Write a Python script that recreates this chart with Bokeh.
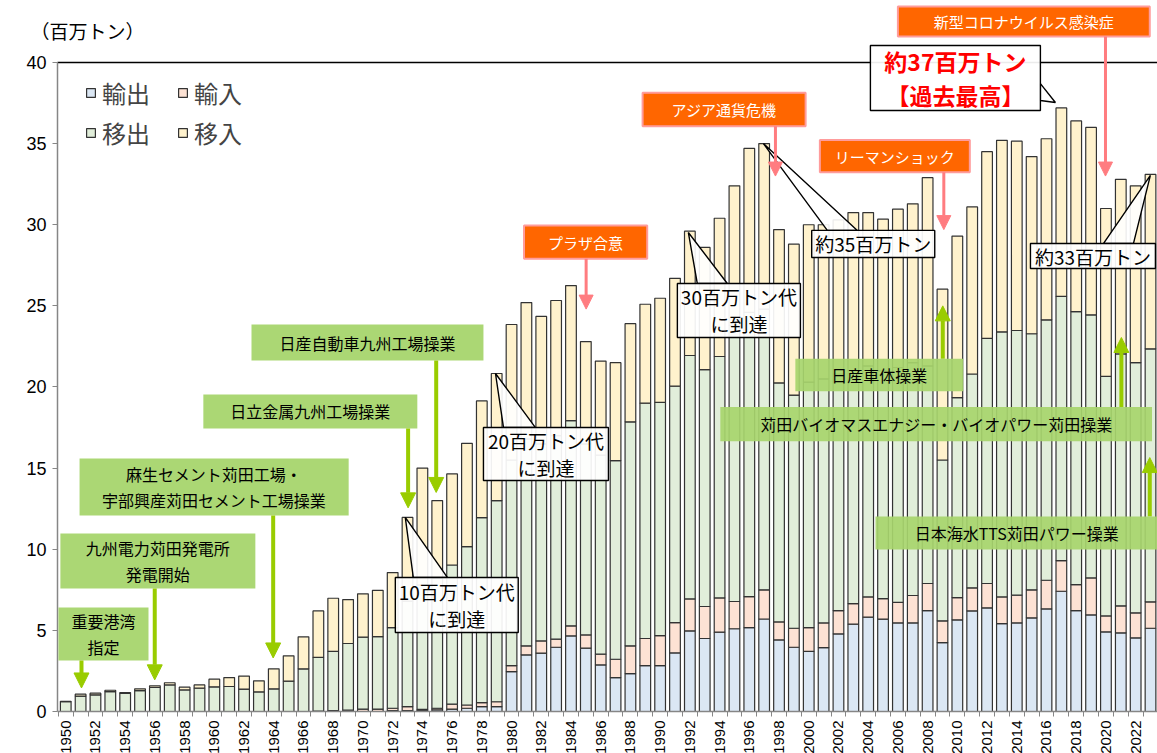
import math
from bokeh.plotting import figure
from bokeh.models import (ColumnDataSource, Range1d, FixedTicker, Label, BoxAnnotation,
                          Arrow, NormalHead, Legend, LegendItem, LinearAxis)
from bokeh.embed import file_html
from bokeh.resources import INLINE

# ---------------- data (百万トン) ----------------
years = list(range(1950, 2024))

export_ = [0]*22 + [0.05, 0.05, 0.05, 0.1, 0.15, 0.2, 0.3, 0.3,
           2.46, 3.49, 3.6, 3.96, 4.66, 3.9, 2.87, 2.09, 2.34, 2.83,
           2.83, 3.61, 4.97, 4.5, 4.89, 5.1, 5.17, 5.7, 4.41, 3.96,
           3.7, 3.94, 4.78, 5.38, 5.81, 5.69, 5.46, 5.46, 6.22, 4.25,
           5.65, 6.2, 6.39, 5.42, 5.46, 5.77, 6.32, 7.41, 6.22, 5.95,
           4.91, 4.85, 4.54, 5.13]

import_ = [0]*17 + [0.02, 0.05, 0.08, 0.14, 0.15,
           0.15, 0.25, 0.08, 0.1, 0.3, 0.2, 0.25, 0.3,
           0.37, 0.56, 0.75, 0.5, 0.62, 0.82, 0.66, 1.13, 1.71, 1.67,
           1.85, 1.87, 1.97, 1.97, 2.11, 1.68, 1.91, 1.8, 1.11, 1.17,
           1.47, 1.52, 1.44, 1.27, 1.25, 1.27, 1.26, 1.69, 1.67, 1.34,
           1.37, 1.42, 1.5, 1.64, 1.71, 1.73, 1.77, 1.89, 1.6, 2.28,
           0.98, 1.66, 1.54, 1.63]

ship_out = [0.6, 0.95, 1.03, 1.23, 1.11, 1.29, 1.48, 1.64, 1.33, 1.44,
            1.52, 1.54, 1.38, 1.21, 1.40, 1.87, 2.63, 3.31, 3.65, 4.11,
            4.44, 4.47, 4.97, 6.5, 7.67, 8.0, 8.58, 9.76, 11.4, 12.4,
            12.67, 12.75, 12.15, 12.54, 12.65, 11.78, 12.27, 12.24, 13.8, 14.5,
            14.37, 14.57, 15.0, 14.6, 14.88, 17.02, 17.52, 17.3, 14.73, 14.37,
            15.13, 15.04, 14.58, 14.35, 14.24, 14.04, 14.48, 14.35, 13.41, 9.91,
            12.33, 13.18, 15.11, 16.34, 16.31, 15.78, 16.05, 16.28, 16.83, 16.22,
            14.76, 15.53, 15.42, 15.59]

ship_in = [0.02, 0.12, 0.10, 0.08, 0.06, 0.11, 0.10, 0.13, 0.17, 0.20,
           0.47, 0.55, 0.80, 0.68, 1.23, 1.56, 1.97, 2.87, 3.28, 2.71,
           2.67, 2.85, 3.39, 5.16, 7.2, 4.8, 5.61, 6.37, 7.19, 7.83,
           8.35, 8.4, 7.85, 8.33, 8.32, 6.3, 5.8, 6.04, 6.05, 6.1,
           6.42, 6.65, 7.66, 7.53, 8.52, 8.6, 10.1, 10.2, 9.45, 9.3,
           9.7, 9.5, 9.5, 9.75, 9.45, 9.34, 9.76, 9.79, 11.6, 10.53,
           9.95, 10.3, 11.5, 11.8, 11.67, 10.92, 11.16, 11.62, 11.75, 11.55,
           10.35, 10.76, 10.9, 10.75]

series_names = ["輸出", "輸入", "移出", "移入"]
y_ticks = [0, 5, 10, 15, 20, 25, 30, 35, 40]
label_years = list(range(1950, 2024, 2))

# ---------------- styles ----------------
JP = "Noto Sans CJK JP"
colors = ["#dbe7f4", "#fde2d4", "#e1eeda", "#fff2cd"]
GREEN_BOX = "#a7d56d"
GREEN_ARROW = "#99cc00"
ORANGE = "#ff6600"
ORANGE_LINE = "#ff9c9c"
PINK_ARROW = "#ff7c80"
AXIS_GRAY = "#868686"

X0, X1 = 1949.45, 2023.47      # plot-area extent (data units)
Y0, Y1 = 0, 40

src = ColumnDataSource(dict(year=years, ex=export_, im=import_, so=ship_out, si=ship_in))

# the frame fills the whole canvas; axes are pinned at the plot-area edges
p = figure(width=1157, height=753, output_backend="svg", toolbar_location=None,
           x_range=Range1d(1945.61, 2023.47), y_range=Range1d(-2.589, 43.82),
           min_border=0, min_border_left=0, min_border_right=0,
           min_border_top=0, min_border_bottom=0)
p.title.visible = False
p.outline_line_color = None
p.grid.visible = False
p.background_fill_color = "white"

rs = p.vbar_stack(["ex", "im", "so", "si"], x="year", width=0.72, source=src,
                  fill_color=colors, line_color="#333333", line_width=1.2)

legend = Legend(items=[LegendItem(label=series_names[0], renderers=[rs[0]]),
                       LegendItem(label=series_names[2], renderers=[rs[2]]),
                       LegendItem(label=series_names[1], renderers=[rs[1]]),
                       LegendItem(label=series_names[3], renderers=[rs[3]])],
                location=(85, 603), ncols=2, margin=0, padding=0, spacing=5,
                glyph_width=11, glyph_height=11, label_standoff=6, label_width=70,
                label_text_font=JP, label_text_font_size="24px",
                border_line_color=None, background_fill_alpha=0)
p.add_layout(legend)

# axes
yax = p.yaxis[0]
yax.fixed_location = X0
yax.bounds = (Y0, Y1)
yax.ticker = FixedTicker(ticks=y_ticks)
yax.major_label_text_font = "Liberation Sans"
yax.major_label_text_font_size = "18px"
yax.major_label_text_color = "black"
yax.axis_line_color = AXIS_GRAY
yax.axis_line_width = 1.5
yax.major_tick_line_color = AXIS_GRAY
yax.major_tick_out = 5
yax.major_tick_in = 0
yax.minor_tick_line_color = None
yax.major_label_standoff = 6

xax = p.xaxis[0]
xax.fixed_location = Y0
xax.bounds = (X0, X1)
xax.ticker = FixedTicker(ticks=label_years, minor_ticks=[y - 0.5 for y in years] + [2023.5])
xax.major_label_orientation = math.pi / 2
xax.major_label_text_font = "Liberation Sans"
xax.major_label_text_font_size = "15px"
xax.major_label_text_color = "black"
xax.axis_line_color = AXIS_GRAY
xax.axis_line_width = 1.5
xax.major_tick_out = 0
xax.major_tick_in = 0
xax.minor_tick_out = 5
xax.minor_tick_in = 0
xax.minor_tick_line_color = AXIS_GRAY
xax.major_label_standoff = 4

# top border of the plot area
top = LinearAxis(fixed_location=Y1, bounds=(X0, X1), ticker=FixedTicker(ticks=[]),
                 axis_line_color="black", axis_line_width=1.6,
                 major_label_text_font_size="0px", major_tick_line_color=None,
                 minor_tick_line_color=None)
p.add_layout(top, "above")

# ---------------- helpers for annotations ----------------
def box(l, r, b, t, fill, line=None, alpha=1.0, lw=1.0):
    p.add_layout(BoxAnnotation(left=l, right=r, bottom=b, top=t, fill_color=fill,
                               fill_alpha=alpha, line_color=line, line_width=lw,
                               line_alpha=1.0 if line else 0))

def label(x, y, text, size, color="black", bold=False, align="center", lh=1.0):
    p.add_layout(Label(x=x, y=y, text=text, text_align=align, text_baseline="middle",
                       text_font=JP, text_font_size=size, text_color=color,
                       text_font_style="bold" if bold else "normal", text_line_height=lh))

def arrow(x, y0, y1, color, lw, size):
    p.add_layout(Arrow(end=NormalHead(size=size, fill_color=color, line_color=color),
                       x_start=x, y_start=y0, x_end=x, y_end=y1,
                       line_color=color, line_width=lw))

def callout(l, r, b, t, apex, base, text, size="19px", color="black", bold=False):
    (ax, ay), (bx0, by0), (bx1, by1) = apex, base[0], base[1]
    p.patch([bx0, ax, bx1], [by0, ay, by1], fill_color="white", fill_alpha=0.9,
            line_color="black", line_width=1.4)
    box(l, r, b, t, "white", "black", 0.92, 1.4)
    label((l + r) / 2, (b + t) / 2, text, size, color, bold)

# y-axis unit
label(1947.63, 41.97, "（百万トン）", "19px", align="left")

# green event boxes (arrow pointing down)
green = [
    (1949.51, 1955.57, 3.14, 6.41, "重要港湾\n指定", 1951.06, 1.45),
    (1949.64, 1962.76, 7.58, 10.97, "九州電力苅田発電所\n発電開始", 1955.99, 1.95),
    (1950.93, 1969.04, 12.08, 15.59, "麻生セメント苅田工場・\n宇部興産苅田セメント工場操業", 1963.96, 3.3),
    (1959.26, 1973.66, 17.44, 19.54, "日立金属九州工場操業", 1973.04, 12.55),
    (1962.50, 1978.11, 21.63, 23.85, "日産自動車九州工場操業", 1974.93, 13.5),
]
for l, r, b, t, txt, ax, tip in green:
    box(l, r, b, t, GREEN_BOX, None, 0.95)
    label((l + r) / 2, (b + t) / 2, txt, "16px", lh=1.05)
    arrow(ax, b, tip, GREEN_ARROW, 4, 15)

# green event boxes (arrow pointing up)
green_up = [
    (1999.10, 2010.40, 19.74, 21.74, "日産車体操業", 2009.02, 25.0),
    (1994.05, 2023.10, 16.66, 18.76, "苅田バイオマスエナジー・バイオパワー苅田操業", 2021.04, 23.05),
    (2004.49, 2023.50, 9.98, 12.02, "日本海水TTS苅田パワー操業", 2022.95, 15.65),
]
for l, r, b, t, txt, ax, tip in green_up:
    arrow(ax, t, tip, GREEN_ARROW, 4, 15)
    box(l, r, b, t, GREEN_BOX, None, 0.92)
    label((l + r) / 2, (b + t) / 2, txt, "16px")

# orange event boxes
orange = [
    (1980.84, 1989.13, 27.90, 29.95, "プラザ合意", 1985.02, 24.8),
    (1988.82, 1999.79, 36.07, 38.13, "アジア通貨危機", 1997.76, 33.0),
    (2000.75, 2010.84, 33.24, 35.23, "リーマンショック", 2009.09, 29.7),
    (2006.00, 2022.95, 41.60, 43.45, "新型コロナウイルス感染症", 2019.97, 33.0),
]
for l, r, b, t, txt, ax, tip in orange:
    box(l, r, b, t, ORANGE, ORANGE_LINE, 1.0, 2)
    label((l + r) / 2, (b + t) / 2, txt, "15px", color="white")
    arrow(ax, b, tip, PINK_ARROW, 3, 14)

# callouts
callout(1972.18, 1980.45, 4.87, 8.26, (1972.85, 11.96), [(1973.39, 8.26), (1975.68, 8.26)],
        "10百万トン代\nに到達")
callout(1978.11, 1986.52, 14.24, 17.50, (1978.92, 20.83), [(1979.46, 17.5), (1981.61, 17.5)],
        "20百万トン代\nに到達")
callout(1991.16, 1999.44, 23.05, 26.38, (1991.90, 29.52), [(1992.50, 26.38), (1994.52, 26.38)],
        "30百万トン代\nに到達")
callout(2000.20, 2008.48, 27.98, 29.65, (1996.95, 35.0), [(2001.25, 29.65), (2003.27, 29.65)],
        "約35百万トン")
callout(2014.92, 2023.33, 27.30, 28.84, (2022.99, 33.04), [(2019.83, 28.84), (2021.85, 28.84)],
        "約33百万トン")
callout(2004.15, 2015.59, 37.04, 41.05, (2016.60, 37.53), [(2015.59, 38.7), (2015.59, 37.66)],
        "約37百万トン\n【過去最高】", size="23px", color="#ff0000", bold=True)

open("out.html", "w").write(file_html(p, INLINE))
